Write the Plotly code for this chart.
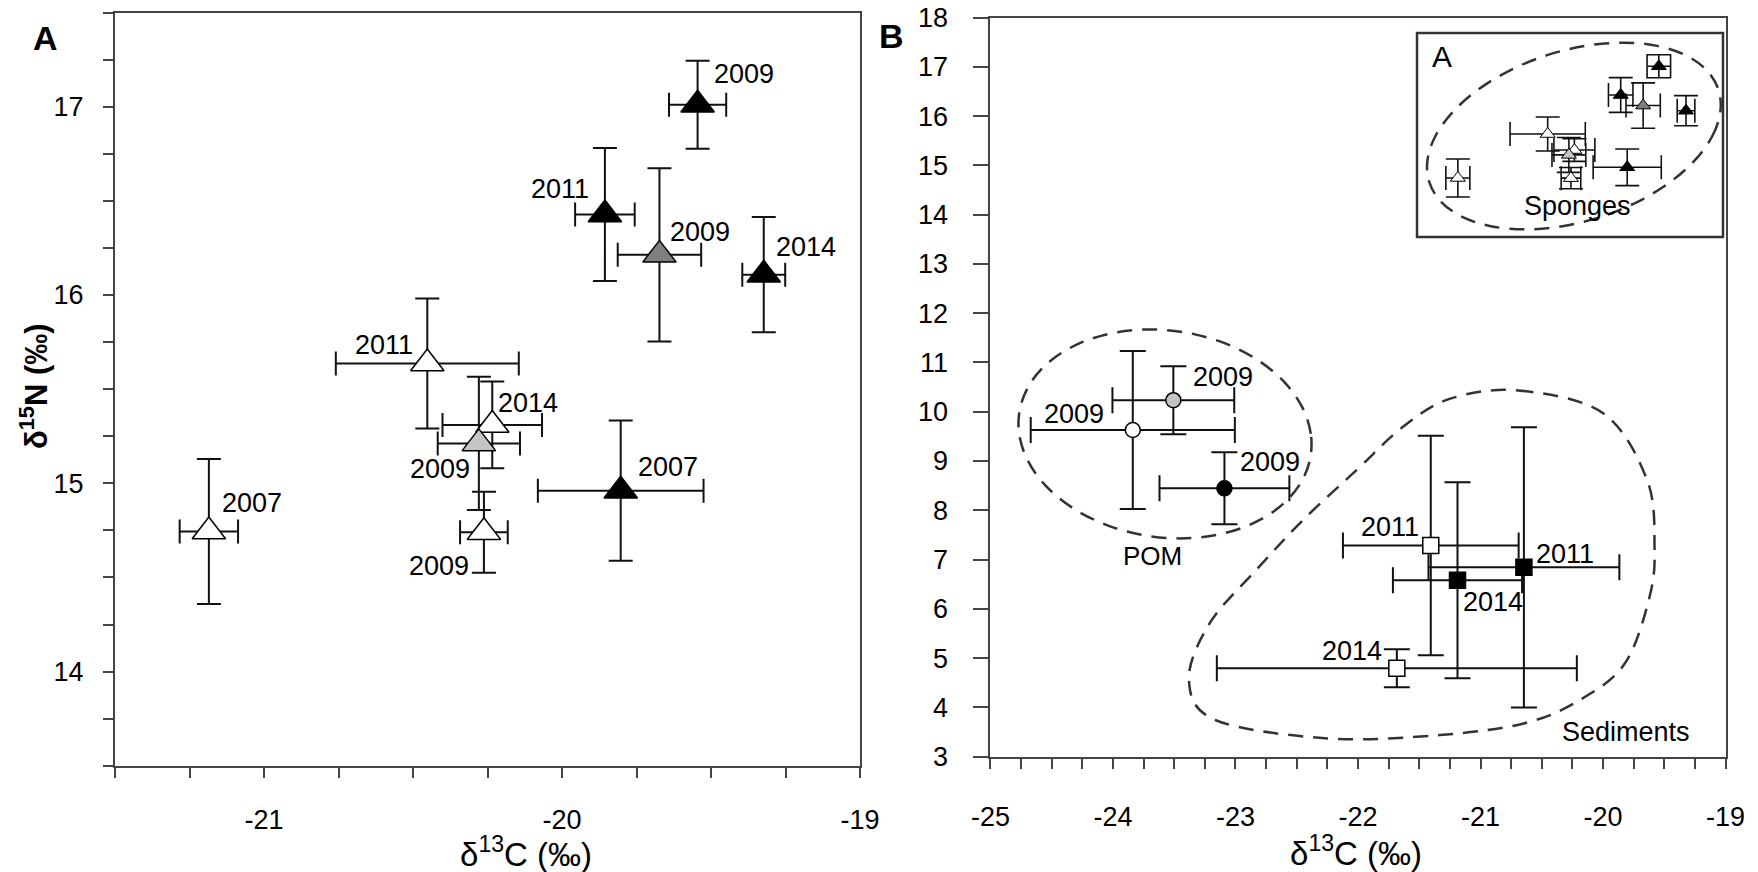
import numpy as np
import plotly.graph_objects as go

W, H = 1758, 872

# ---------------- data ----------------
# Panel A : sponges (d13C, d15N, SDs)
sp_year = ["2009", "2011", "2009", "2014", "2011", "2014", "2009", "2009", "2007", "2007"]
sp_d13c = [-19.545, -19.856, -19.673, -19.323, -20.452, -20.234, -20.279, -20.262, -21.185, -19.803]
sp_d15n = [17.01, 16.427, 16.213, 16.108, 15.636, 15.31, 15.212, 14.74, 14.744, 14.961]
sp_c_sd = [0.096, 0.10, 0.14, 0.072, 0.307, 0.167, 0.138, 0.08, 0.098, 0.278]
sp_n_sd = [0.234, 0.353, 0.46, 0.306, 0.345, 0.23, 0.354, 0.215, 0.385, 0.372]
sp_fill = ["black", "black", "dark", "black", "white", "white", "light", "white", "white", "black"]

# Panel B : POM
pom_year = ["2009", "2009", "2009"]
pom_d13c = [-23.838, -23.507, -23.09]
pom_d15n = [9.63, 10.235, 8.446]
pom_c_sd = [0.833, 0.497, 0.53]
pom_n_sd = [1.603, 0.69, 0.73]
pom_fill = ["white", "light", "black"]

# Panel B : sediments
sed_year = ["2011", "2011", "2014", "2014"]
sed_d13c = [-21.406, -20.646, -21.188, -21.683]
sed_d15n = [7.286, 6.842, 6.579, 4.794]
sed_c_sd = [0.717, 0.779, 0.527, 1.469]
sed_n_sd = [2.229, 2.842, 1.989, 0.386]
sed_fill = ["white", "black", "black", "white"]

# tick labels
a_xticks = [-21, -20, -19]
a_xlabels = ["-21", "-20", "-19"]
a_yticks = [14, 15, 16, 17]
a_ylabels = ["14", "15", "16", "17"]
b_xticks = [-25, -24, -23, -22, -21, -20, -19]
b_xlabels = ["-25", "-24", "-23", "-22", "-21", "-20", "-19"]
b_yticks = list(range(3, 19))
b_ylabels = [str(v) for v in b_yticks]

# label offsets (px) for the year labels
sp_lab_off = [(46, 31), (-45, 26), (41, 23), (42, 28), (-43, 19), (36, 22), (-39, -26), (-45, -34), (43, 29), (47, 24)]
pom_lab_off = [(-59, 16), (50, 23), (46, 26)]
sed_lab_off = [(-41, 18), (41, 13), (35, -22), (-45, 17)]

FILL = {"black": "#000000", "dark": "#7f7f7f", "light": "#c4c4c4", "white": "#ffffff"}
FONT = "Liberation Sans, Arial, sans-serif"
AX = "#444444"


def pxx(x):
    return x / W


def pyy(y):
    return 1 - y / H


def smooth_closed_path(pts):
    n = len(pts)
    d = f"M {pts[0][0]},{pts[0][1]}"
    for i in range(n):
        p0, p1, p2, p3 = pts[i - 1], pts[i], pts[(i + 1) % n], pts[(i + 2) % n]
        c1 = (p1[0] + (p2[0] - p0[0]) / 6, p1[1] + (p2[1] - p0[1]) / 6)
        c2 = (p2[0] - (p3[0] - p1[0]) / 6, p2[1] - (p3[1] - p1[1]) / 6)
        d += f" C {c1[0]:.4f},{c1[1]:.4f} {c2[0]:.4f},{c2[1]:.4f} {p2[0]:.4f},{p2[1]:.4f}"
    return d + " Z"


def sheared_ellipse(cx, cy, a, b, k, n=24):
    t = np.linspace(0, 2 * np.pi, n, endpoint=False)
    return [(cx + a * np.cos(tt) + k * np.sin(tt), cy + b * np.sin(tt)) for tt in t]


fig = go.Figure()

# ---- Panel A main ----
fig.add_trace(go.Scatter(
    x=sp_d13c, y=sp_d15n, mode="markers", xaxis="x", yaxis="y", hoverinfo="skip",
    marker=dict(symbol="triangle-up", size=29, color=[FILL[f] for f in sp_fill],
                line=dict(color="black", width=1.5)),
    error_x=dict(type="data", array=sp_c_sd, visible=True, color="#111", thickness=2, width=12),
    error_y=dict(type="data", array=sp_n_sd, visible=True, color="#111", thickness=2, width=12),
))

# ---- Panel B: inset copy of sponges ----
fig.add_trace(go.Scatter(
    x=sp_d13c, y=sp_d15n, mode="markers", xaxis="x2", yaxis="y2", hoverinfo="skip",
    marker=dict(symbol="triangle-up", size=13, color=[FILL[f] for f in sp_fill],
                line=dict(color="black", width=1)),
    error_x=dict(type="data", array=sp_c_sd, visible=True, color="#111", thickness=1.6, width=12),
    error_y=dict(type="data", array=sp_n_sd, visible=True, color="#111", thickness=1.6, width=12),
))

# ---- Panel B: POM ----
fig.add_trace(go.Scatter(
    x=pom_d13c, y=pom_d15n, mode="markers", xaxis="x2", yaxis="y2", hoverinfo="skip",
    marker=dict(symbol="circle", size=15, color=[FILL[f] for f in pom_fill],
                line=dict(color="black", width=1.5)),
    error_x=dict(type="data", array=pom_c_sd, visible=True, color="#111", thickness=2, width=13),
    error_y=dict(type="data", array=pom_n_sd, visible=True, color="#111", thickness=2, width=13),
))

# ---- Panel B: sediments ----
fig.add_trace(go.Scatter(
    x=sed_d13c, y=sed_d15n, mode="markers", xaxis="x2", yaxis="y2", hoverinfo="skip",
    marker=dict(symbol="square", size=16, color=[FILL[f] for f in sed_fill],
                line=dict(color="black", width=1.5)),
    error_x=dict(type="data", array=sed_c_sd, visible=True, color="#111", thickness=2, width=13),
    error_y=dict(type="data", array=sed_n_sd, visible=True, color="#111", thickness=2, width=13),
))

ann = []
for xs, ys, yrs, offs, xa, ya in [
    (sp_d13c, sp_d15n, sp_year, sp_lab_off, "x", "y"),
    (pom_d13c, pom_d15n, pom_year, pom_lab_off, "x2", "y2"),
    (sed_d13c, sed_d15n, sed_year, sed_lab_off, "x2", "y2"),
]:
    for x, y, t, (dx, dy) in zip(xs, ys, yrs, offs):
        ann.append(dict(x=x, y=y, xref=xa, yref=ya, text=t, showarrow=False,
                        xanchor="center", yanchor="middle",
                        xshift=dx, yshift=dy, font=dict(family=FONT, size=27, color="black")))


def txt(xp, yp, text, size, angle=0):
    return dict(x=pxx(xp), y=pyy(yp), xref="paper", yref="paper", text=text, showarrow=False,
                xanchor="center", yanchor="middle", textangle=angle,
                font=dict(family=FONT, size=size, color="black"))


# panel letters, titles, group labels
ann += [
    txt(45, 38, "<b>A</b>", 34),
    txt(891, 36, "<b>B</b>", 34),
    txt(34, 386, "<b>δ<sup>15</sup>N (‰)</b>", 31, angle=-90),
    txt(526, 852, "δ<sup>13</sup>C (‰)", 33),
    txt(1356, 851, "δ<sup>13</sup>C (‰)", 33),
    txt(1152, 556, "POM", 26),
    txt(1626, 732, "Sediments", 27),
    txt(1577, 206, "Sponges", 27),
    txt(1442, 56, "A", 30),
]

# outlines
sed_outline = [(-20.69, 10.43), (-20.0, 9.97), (-19.64, 8.61), (-19.58, 7.26), (-19.62, 6.25),
               (-19.82, 4.90), (-20.19, 4.15), (-20.64, 3.68), (-21.33, 3.44), (-22.24, 3.37),
               (-23.16, 3.74), (-23.38, 4.56), (-23.21, 5.71), (-22.83, 6.79), (-22.45, 7.80),
               (-22.01, 8.82), (-21.63, 9.70), (-21.24, 10.27)]
pom_outline = sheared_ellipse(-23.575, 9.55, 1.19, 2.12, -0.12)
spg_outline = sheared_ellipse(-20.238, 15.595, 1.13, 1.894, 0.4)

dash_line = dict(color="#333333", width=2.5, dash="15px,10px")
shapes = [
    dict(type="path", xref="x2", yref="y2", path=smooth_closed_path(sed_outline), line=dash_line, layer="below"),
    dict(type="path", xref="x2", yref="y2", path=smooth_closed_path(pom_outline), line=dash_line, layer="below"),
    dict(type="path", xref="x2", yref="y2", path=smooth_closed_path(spg_outline), line=dash_line, layer="below"),
    dict(type="rect", xref="paper", yref="paper", x0=pxx(1417), x1=pxx(1723), y0=pyy(237), y1=pyy(33),
         line=dict(color="#333333", width=2.5)),
]

common = dict(showgrid=False, zeroline=False, showline=True, linecolor=AX, linewidth=2, mirror=True,
              ticks="outside", tickcolor=AX, tickwidth=2, automargin=False, tickmode="array",
              tickfont=dict(family=FONT, size=27, color="black"))

fig.update_layout(
    template="none",
    width=W, height=H, margin=dict(l=0, r=0, t=0, b=0, pad=0), autosize=False,
    paper_bgcolor="white", plot_bgcolor="white", showlegend=False,
    font=dict(family=FONT, color="black"),
    xaxis=dict(domain=[115 / W, 860 / W], range=[-21.5, -19], anchor="y",
               tickvals=a_xticks, ticktext=a_xlabels, ticklen=10, ticklabelstandoff=19,
               minor=dict(tickmode="linear", tick0=-21, dtick=0.25, ticks="outside", ticklen=10, tickwidth=2, tickcolor=AX),
               **common),
    yaxis=dict(domain=[1 - 765.8 / H, 1 - 12.5 / H], range=[13.5, 17.5], anchor="x",
               tickvals=a_yticks, ticktext=a_ylabels, ticklen=10, ticklabelstandoff=14,
               minor=dict(tickmode="linear", tick0=14, dtick=0.25, ticks="outside", ticklen=10, tickwidth=2, tickcolor=AX),
               **common),
    xaxis2=dict(domain=[990.4 / W, 1725.6 / W], range=[-25, -19], anchor="y2",
                tickvals=b_xticks, ticktext=b_xlabels, ticklen=10, ticklabelstandoff=25,
                minor=dict(tickmode="linear", tick0=-25, dtick=0.25, ticks="outside", ticklen=10, tickwidth=2, tickcolor=AX),
                **common),
    yaxis2=dict(domain=[1 - 756.7 / H, 1 - 17.5 / H], range=[3, 18], anchor="x2",
                tickvals=b_yticks, ticktext=b_ylabels, ticklen=15, ticklabelstandoff=20, **common),
    annotations=ann, shapes=shapes,
)

fig.write_html("out.html")
